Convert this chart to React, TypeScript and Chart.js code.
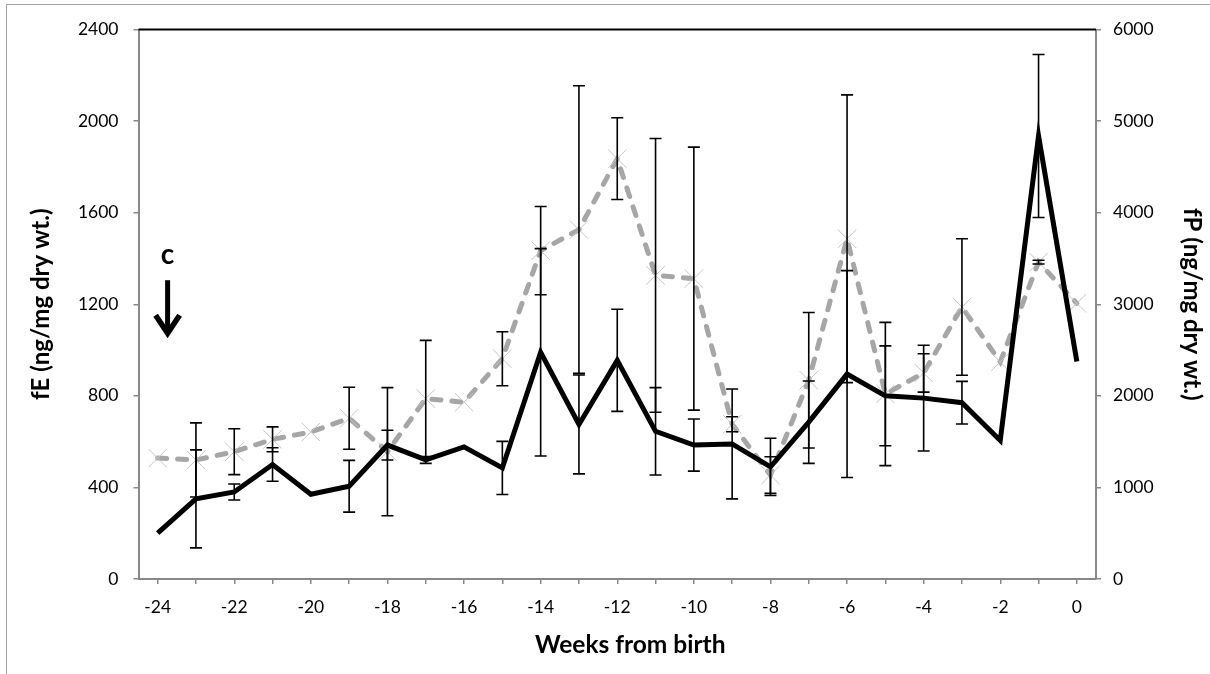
import React, { useEffect, useRef } from 'react';
import { Chart, registerables } from 'chart.js';

Chart.register(...registerables);

// Weeks relative to birth
const WEEKS = [-24, -23, -22, -21, -20, -19, -18, -17, -16, -15, -14, -13, -12, -11, -10, -9, -8, -7, -6, -5, -4, -3, -2, -1, 0];

// Faecal oestrogen (left axis) with standard errors
const FE = [200, 350, 380, 500, 370, 405, 585, 520, 577, 485, 990, 675, 955, 645, 585, 590, 490, 685, 895, 800, 790, 770, 605, 1935, 950];
const FE_ERR = [0, 214, 35, 73, 0, 113, 65, 15, 0, 116, 453, 216, 223, 191, 114, 240, 125, 180, 452, 218, 231, 93, 0, 356, 0];

// Faecal progestagen (right axis) with standard errors
const FP = [1320, 1300, 1390, 1525, 1605, 1755, 1390, 1970, 1930, 2405, 3585, 3815, 4590, 3315, 3280, 1690, 1135, 2170, 3715, 2020, 2250, 2970, 2370, 3460, 3010];
const FP_ERR = [0, 405, 250, 136, 0, 338, 700, 636, 0, 295, 482, 1570, 446, 1495, 1436, 82, 200, 740, 1571, 782, 209, 746, 0, 20, 0];

// Axis ranges
const FE_MAX = 2400;
const FE_STEP = 400;
const FP_MAX = 6000;
const FP_STEP = 1000;

const X_TITLE = 'Weeks from birth';

// Panel marker: label and arrow placed in data units (category index, fE value)
const PANEL_LABEL = 'c';
const PANEL_INDEX = 0.26;
const PANEL_TEXT_VALUE = 1414;
const PANEL_ARROW_FROM = 1305;
const PANEL_ARROW_TO = 1056;

const FONT = 'Lato, "Open Sans", sans-serif';
const AXIS_GREY = '#898989';

const errorBarPlugin = {
  id: 'errorBars',
  afterDatasetDraw(chart: any, args: any) {
    const ds = chart.data.datasets[args.index];
    const errs: number[] | undefined = ds.errors;
    if (!errs) return;
    const meta = args.meta;
    const yScale = chart.scales[meta.yAxisID];
    const ctx = chart.ctx;
    ctx.save();
    ctx.strokeStyle = '#000';
    ctx.lineWidth = 1.6;
    const cap = 6;
    meta.data.forEach((pt: any, i: number) => {
      const e = errs[i];
      if (!e) return;
      const v = ds.data[i];
      const yTop = yScale.getPixelForValue(v + e);
      const yBot = yScale.getPixelForValue(Math.max(0, v - e));
      const x = pt.x;
      ctx.beginPath();
      ctx.moveTo(x, yTop);
      ctx.lineTo(x, yBot);
      ctx.moveTo(x - cap, yTop);
      ctx.lineTo(x + cap, yTop);
      ctx.moveTo(x - cap, yBot);
      ctx.lineTo(x + cap, yBot);
      ctx.stroke();
    });
    ctx.restore();
  },
};

// Black rule along the top of the plot area, plus the x-axis title centred on the chart box
const plotFramePlugin = {
  id: 'plotFrame',
  afterDraw(chart: any) {
    const { ctx, chartArea, width, height } = chart;
    ctx.save();
    ctx.strokeStyle = '#000';
    ctx.lineWidth = 2;
    ctx.beginPath();
    ctx.moveTo(chartArea.left, chartArea.top);
    ctx.lineTo(chartArea.right, chartArea.top);
    ctx.stroke();
    ctx.fillStyle = '#000';
    ctx.font = `bold 24.5px ${FONT}`;
    ctx.textAlign = 'center';
    ctx.textBaseline = 'middle';
    const cx = (chartArea.left + chartArea.right) / 2 + 13;
    ctx.fillText(X_TITLE, cx, height - 29);
    ctx.restore();
  },
};

const panelLabelPlugin = {
  id: 'panelLabel',
  afterDraw(chart: any) {
    const { ctx } = chart;
    const xs = chart.scales.x;
    const ys = chart.scales.y;
    const x = xs.getPixelForValue(PANEL_INDEX);
    const yText = ys.getPixelForValue(PANEL_TEXT_VALUE);
    const yFrom = ys.getPixelForValue(PANEL_ARROW_FROM);
    const yTo = ys.getPixelForValue(PANEL_ARROW_TO);
    ctx.save();
    ctx.fillStyle = '#000';
    ctx.font = `bold 28px ${FONT}`;
    ctx.textAlign = 'center';
    ctx.textBaseline = 'middle';
    ctx.fillText(PANEL_LABEL, x, yText);
    ctx.strokeStyle = '#000';
    ctx.lineWidth = 5;
    ctx.beginPath();
    ctx.moveTo(x, yFrom);
    ctx.lineTo(x, yTo - 4);
    ctx.stroke();
    ctx.lineWidth = 5.5;
    ctx.lineJoin = 'miter';
    ctx.beginPath();
    ctx.moveTo(x - 12, yTo - 22);
    ctx.lineTo(x, yTo - 4);
    ctx.lineTo(x + 12, yTo - 22);
    ctx.stroke();
    ctx.restore();
  },
};

const plainNumber = (v: any) => String(v);

export default function App() {
  const canvasRef = useRef<HTMLCanvasElement | null>(null);

  useEffect(() => {
    const canvas = canvasRef.current;
    if (!canvas) return;
    const chart = new Chart(canvas, {
      type: 'line',
      data: {
        labels: WEEKS.map(String),
        datasets: [
          {
            label: 'fE',
            data: FE,
            errors: FE_ERR,
            yAxisID: 'y',
            borderColor: '#000',
            borderWidth: 5,
            pointRadius: 0,
            borderJoinStyle: 'miter',
            tension: 0,
          } as any,
          {
            label: 'fP',
            data: FP,
            errors: FP_ERR,
            yAxisID: 'y1',
            borderColor: '#a6a6a6',
            borderWidth: 5,
            borderDash: [9, 11],
            borderCapStyle: 'round',
            pointStyle: 'crossRot',
            pointRadius: 13,
            pointBorderColor: '#c4c4c4',
            pointBorderWidth: 1,
            pointBackgroundColor: 'transparent',
            tension: 0,
          } as any,
        ],
      },
      options: {
        responsive: false,
        animation: false,
        devicePixelRatio: 1,
        layout: { padding: { top: 29.5, left: 0, right: 0, bottom: 0 } },
        plugins: {
          legend: { display: false },
          tooltip: { enabled: false },
        },
        scales: {
          x: {
            type: 'category',
            offset: true,
            afterFit: (s: any) => {
              s.height = 95;
            },
            grid: {
              offset: false,
              drawOnChartArea: false,
              drawTicks: true,
              tickLength: 5,
              color: AXIS_GREY,
              lineWidth: 1.5,
            },
            border: { color: AXIS_GREY, width: 2 },
            ticks: {
              autoSkip: false,
              maxRotation: 0,
              padding: 13,
              color: '#000',
              font: { family: FONT, size: 17.5 },
              callback: (_v: any, i: number) => (WEEKS[i] % 2 === 0 ? String(WEEKS[i]) : ''),
            },
            title: { display: false },
          },
          y: {
            position: 'left',
            min: 0,
            max: FE_MAX,
            afterFit: (s: any) => {
              s.width = 138.5;
            },
            grid: {
              drawOnChartArea: false,
              tickLength: 5,
              color: AXIS_GREY,
              lineWidth: 1.5,
            },
            border: { color: AXIS_GREY, width: 2 },
            ticks: {
              stepSize: FE_STEP,
              padding: 15,
              color: '#000',
              font: { family: FONT, size: 17.5 },
              callback: plainNumber,
            },
            title: {
              display: true,
              text: 'fE (ng/mg dry wt.)',
              color: '#000',
              font: { family: FONT, size: 24, weight: 'bold' },
              padding: { top: 27, bottom: 0 },
            },
          },
          y1: {
            position: 'right',
            min: 0,
            max: FP_MAX,
            afterFit: (s: any) => {
              s.width = 114;
            },
            grid: {
              drawOnChartArea: false,
              tickLength: 5,
              color: AXIS_GREY,
              lineWidth: 1.5,
            },
            border: { color: AXIS_GREY, width: 2 },
            ticks: {
              stepSize: FP_STEP,
              padding: 12,
              color: '#000',
              font: { family: FONT, size: 17.5 },
              callback: plainNumber,
            },
            title: {
              display: true,
              text: 'fP (ng/mg dry wt.)',
              color: '#000',
              font: { family: FONT, size: 24, weight: 'bold' },
              padding: { top: 4, bottom: 0 },
            },
          },
        },
      } as any,
      plugins: [errorBarPlugin, plotFramePlugin, panelLabelPlugin],
    });
    return () => chart.destroy();
  }, []);

  return (
    <div style={{ position: 'absolute', left: 0, top: 0, width: 1210, height: 674, background: '#fff', overflow: 'hidden' }}>
      <div
        style={{
          position: 'absolute',
          left: 6,
          top: 4,
          right: -10,
          bottom: -10,
          borderTop: '1.5px solid #a3a3a3',
          borderLeft: '1.5px solid #a3a3a3',
        }}
      />
      <canvas ref={canvasRef} width={1210} height={674} style={{ position: 'absolute', left: 0, top: 0 }} />
    </div>
  );
}
